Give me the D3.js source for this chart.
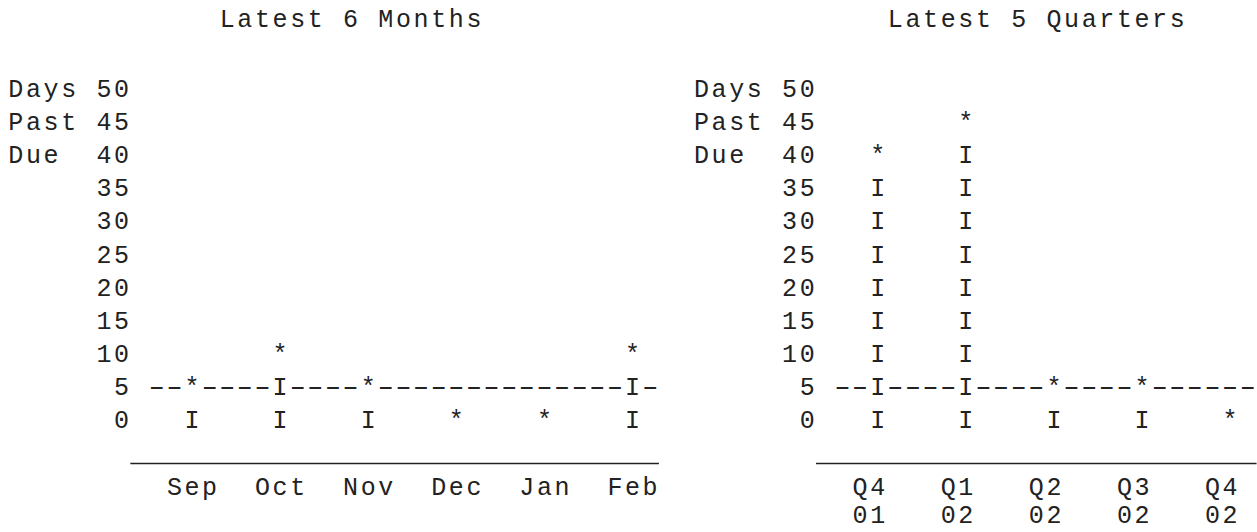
<!DOCTYPE html>
<html>
<head>
<meta charset="utf-8">
<script src="https://cdn.jsdelivr.net/npm/d3@7"></script>
<style>
  body { margin: 0; background: #fff; }
  text { font-family: "Courier New", "Liberation Mono", monospace; font-size: 25px; fill: #222; }
</style>
</head>
<body>
<div id="chart"></div>
<script>
// DATA
const months = ["Sep", "Oct", "Nov", "Dec", "Jan", "Feb"];
const monthDays = [5, 10, 5, 0, 0, 10];

const quarters = ["Q4", "Q1", "Q2", "Q3", "Q4"];
const quarterYears = ["01", "02", "02", "02", "02"];
const quarterDays = [40, 45, 5, 5, 0];

const yTicks = [0, 5, 10, 15, 20, 25, 30, 35, 40, 45, 50];
const yTitle = ["Days", "Past", "Due"];
const targetDays = 5;

// character grid
const cw = 17.62;      // one character cell
const rowH = 33.15;    // one text line
const base0 = 428.3;   // baseline of the 0 row

const svg = d3.select("#chart")
    .append("svg")
    .attr("width", 1257)
    .attr("height", 532)

function drawPanel(opt) {
    const g = svg.append("g")

    // column number -> x centre of that cell
    const col = d3.scaleLinear().domain([0, 1]).range([opt.x0, opt.x0 + cw])
    const y = d3.scaleLinear().domain([0, 50]).range([base0, base0 - 10 * rowH])
    const n = opt.cats.length
    const x = d3.scalePoint()
        .domain(d3.range(n))
        .range([col(10), col(10 + 5 * (n - 1))])
    const colOf = i => Math.round(col.invert(x(i)))
    const lastCol = colOf(n - 1)

    const chars = []
    const put = (s, c, yy) => s.split("").forEach((ch, i) => chars.push({ ch: ch, x: col(c + i), y: yy }))

    // title
    put(opt.title, opt.titleCol, 27)

    // y axis title + tick labels
    yTitle.forEach((t, i) => put(t, 0, y(yTicks[yTicks.length - 1 - i])))
    yTicks.forEach(t => {
        const s = String(t)
        put(s, 7 - s.length, y(t))
    })

    // bars of I with a star on top
    opt.values.forEach((v, i) => {
        for (let t = 0; t < v; t += 5) chars.push({ ch: "I", x: x(i), y: y(t) })
        chars.push({ ch: "*", x: x(i), y: y(v) })
    })

    // target line of dashes
    const taken = new Set()
    opt.values.forEach((v, i) => { if (v >= targetDays) taken.add(colOf(i)) })
    d3.range(8, lastCol + 2).forEach(c => {
        if (!taken.has(c)) chars.push({ ch: "-", x: col(c), y: y(targetDays) })
    })

    // category labels
    opt.cats.forEach((c, i) => put(c, colOf(i) - 1, base0 + 2 * rowH))
    if (opt.sub) opt.sub.forEach((c, i) => put(c, colOf(i) - 1, base0 + 3 * rowH - 5))

    // axis rule
    g.append("line")
        .attr("x1", col(7) - cw / 2)
        .attr("x2", col(lastCol + 1) + cw / 2)
        .attr("y1", base0 + rowH + 2)
        .attr("y2", base0 + rowH + 2)
        .attr("stroke", "#222")
        .attr("stroke-width", 1.6)

    g.selectAll("text")
        .data(chars)
        .join("text")
        .attr("transform", d => `translate(${d.x},${d.y})` + (d.ch === "-" ? " scale(1.7,1)" : "")) // courier dashes are wide
        .attr("text-anchor", "middle")
        .text(d => d.ch)
}

drawPanel({ title: "Latest 6 Months", titleCol: 12, x0: 15.8, cats: months, values: monthDays })
drawPanel({ title: "Latest 5 Quarters", titleCol: 11, x0: 701.5, cats: quarters, sub: quarterYears, values: quarterDays })
</script>
</body>
</html>
